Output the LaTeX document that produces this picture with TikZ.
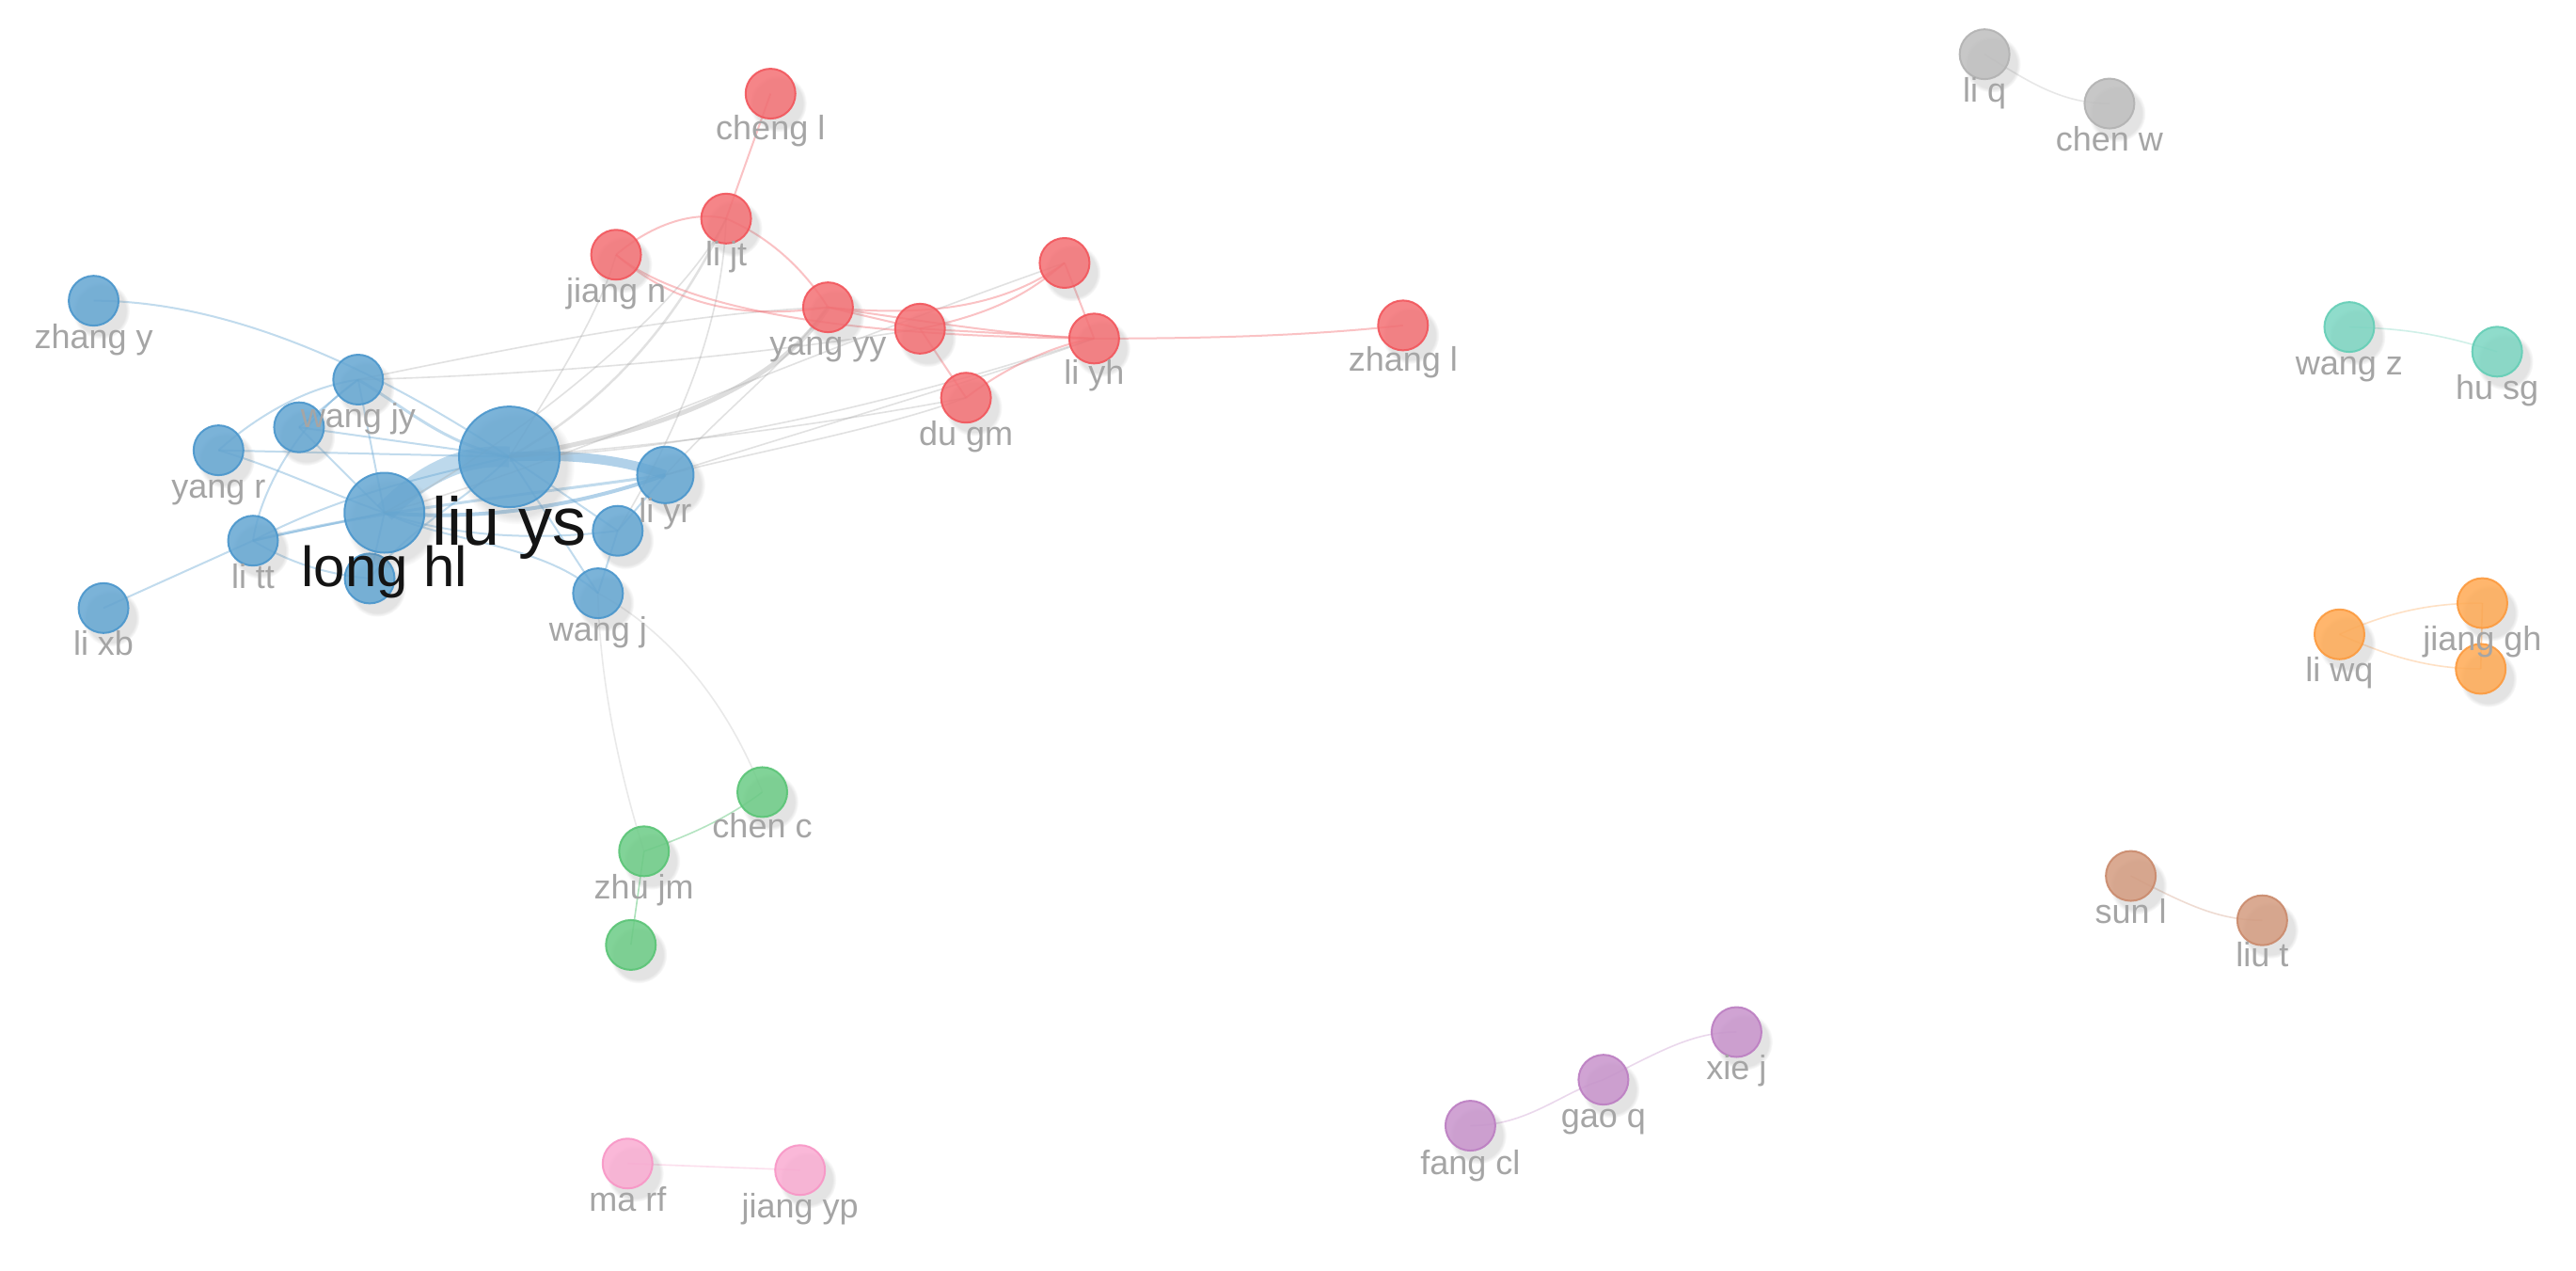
\documentclass[tikz,border=0pt]{standalone}
\usepackage{fontspec}
\setmainfont{Liberation Sans}
\usetikzlibrary{shadows,fadings}
\pgfdeclarelayer{bg}
\pgfdeclarelayer{edges}
\pgfsetlayers{bg,edges,main}

\definecolor{cblue}{RGB}{100,166,210}
\definecolor{cblueD}{RGB}{74,150,204}
\definecolor{cred}{RGB}{244,112,116}
\definecolor{credD}{RGB}{242,86,92}
\definecolor{cgreen}{RGB}{108,204,134}
\definecolor{cgreenD}{RGB}{90,196,118}
\definecolor{cpink}{RGB}{250,172,210}
\definecolor{cpinkD}{RGB}{248,150,198}
\definecolor{cpurple}{RGB}{200,148,204}
\definecolor{cpurpleD}{RGB}{188,126,194}
\definecolor{cgray}{RGB}{190,190,190}
\definecolor{cgrayD}{RGB}{178,178,178}
\definecolor{cteal}{RGB}{124,214,194}
\definecolor{ctealD}{RGB}{100,206,182}
\definecolor{corange}{RGB}{255,170,84}
\definecolor{corangeD}{RGB}{252,154,62}
\definecolor{cbrown}{RGB}{212,156,128}
\definecolor{cbrownD}{RGB}{202,138,108}
\definecolor{labgray}{RGB}{165,165,165}
\definecolor{eblue}{RGB}{100,165,212}
\definecolor{egray}{RGB}{170,170,170}
\definecolor{ered}{RGB}{244,120,126}

\tikzset{
  nd/.style={circle,inner sep=0pt,minimum size=53pt,line width=2pt,
    fill opacity=0.85,draw opacity=0.9,
    circular drop shadow={shadow xshift=7pt,shadow yshift=-9pt,opacity=0.22,shadow scale=1.15}},
  cb/.style={nd,fill=cblue,draw=cblueD},
  cr/.style={nd,fill=cred,draw=credD},
  cg/.style={nd,fill=cgreen,draw=cgreenD},
  cp/.style={nd,fill=cpink,draw=cpinkD},
  cu/.style={nd,fill=cpurple,draw=cpurpleD},
  cy/.style={nd,fill=cgray,draw=cgrayD},
  ct/.style={nd,fill=cteal,draw=ctealD},
  co/.style={nd,fill=corange,draw=corangeD},
  cw/.style={nd,fill=cbrown,draw=cbrownD},
  lbl/.style={font=\fontsize{36}{40}\selectfont,text=labgray,inner sep=0pt,anchor=base},
  big/.style={font=\fontsize{72}{80}\selectfont,text=black!92,inner sep=0pt,anchor=base},
  mid/.style={font=\fontsize{60}{66}\selectfont,text=black!92,inner sep=0pt,anchor=base},
  eb/.style={draw=eblue,line width=2pt,draw opacity=0.4},
  eg/.style={draw=egray,line width=1.6pt,draw opacity=0.35},
  er/.style={draw=ered,line width=2pt,draw opacity=0.45},
  ek/.style={line width=1.6pt,draw opacity=0.3},
}

\begin{document}
\begin{tikzpicture}[x=1.7468pt,y=-1.7468pt]
\begin{pgfonlayer}{bg}
\fill[white] (0,0) rectangle (1568,773);
\end{pgfonlayer}
\useasboundingbox (0,0) rectangle (1568,773);

% ---- blue cluster
\node[cb] (zhangy) at (57,183) {};
\node[cb] (wangjy) at (218,231) {};
\node[cb] (b1) at (182,260) {};
\node[cb] (yangr) at (133,274) {};
\node[cb] (litt) at (154,329) {};
\node[cb] (lixb) at (63,370) {};
\node[cb] (b2) at (225,352) {};
\node[cb] (wangj) at (364,361) {};
\node[cb] (b3) at (376,323) {};
\node[cb,minimum size=60pt] (liyr) at (405,289) {};
\node[cb,minimum size=85pt] (longhl) at (234,312) {};
\node[cb,minimum size=107pt] (liuys) at (310,278) {};

% ---- red cluster
\node[cr] (chengl) at (469,57) {};
\node[cr] (lijt) at (442,133) {};
\node[cr] (jiangn) at (375,155) {};
\node[cr] (r1) at (648,160) {};
\node[cr] (yangyy) at (504,187) {};
\node[cr] (r2) at (560,200) {};
\node[cr] (liyh) at (666,206) {};
\node[cr] (dugm) at (588,242) {};
\node[cr] (zhangl) at (854,198) {};

% ---- green
\node[cg] (chenc) at (464,482) {};
\node[cg] (zhujm) at (392,518) {};
\node[cg] (g1) at (384,575) {};
% ---- pink
\node[cp] (marf) at (382,708) {};
\node[cp] (jiangyp) at (487,712) {};
% ---- purple
\node[cu] (fangcl) at (895,685) {};
\node[cu] (gaoq) at (976,657) {};
\node[cu] (xiej) at (1057,628) {};
% ---- gray
\node[cy] (liq) at (1208,33) {};
\node[cy] (chenw) at (1284,63) {};
% ---- teal
\node[ct] (wangz) at (1430,199) {};
\node[ct] (husg) at (1520,214) {};
% ---- orange
\node[co] (liwq) at (1424,386) {};
\node[co] (jianggh) at (1511,367) {};
\node[co] (o1) at (1510,407) {};
% ---- brown
\node[cw] (sunl) at (1297,533) {};
\node[cw] (liut) at (1377,560) {};

% ---- labels
\node[lbl] (zhangy-t) at (57,212) {zhang y};
\node[lbl] (wangjy-t) at (218,260) {wang jy};
\node[lbl] (yangr-t) at (133,303) {yang r};
\node[lbl] (liyr-t) at (405,318) {li yr};
\node[lbl] (litt-t) at (154,358) {li tt};
\node[lbl] (lixb-t) at (63,399) {li xb};
\node[lbl] (wangj-t) at (364,390) {wang j};
\node[big] (liuys-t) at (310,332) {liu ys};
\node[mid] (longhl-t) at (234,357) {long hl};
\node[lbl] (chengl-t) at (469,85) {cheng l};
\node[lbl] (lijt-t) at (442,162) {li jt};
\node[lbl] (jiangn-t) at (375,184) {jiang n};
\node[lbl] (yangyy-t) at (504,216) {yang yy};
\node[lbl] (liyh-t) at (666,234) {li yh};
\node[lbl] (dugm-t) at (588,271) {du gm};
\node[lbl] (zhangl-t) at (854,226) {zhang l};
\node[lbl] (chenc-t) at (464,510) {chen c};
\node[lbl] (zhujm-t) at (392,547) {zhu jm};
\node[lbl] (marf-t) at (382,737) {ma rf};
\node[lbl] (jiangyp-t) at (487,741) {jiang yp};
\node[lbl] (fangcl-t) at (895,715) {fang cl};
\node[lbl] (gaoq-t) at (976,686) {gao q};
\node[lbl] (xiej-t) at (1057,657) {xie j};
\node[lbl] (liq-t) at (1208,62) {li q};
\node[lbl] (chenw-t) at (1284,92) {chen w};
\node[lbl] (wangz-t) at (1430,228) {wang z};
\node[lbl] (husg-t) at (1520,243) {hu sg};
\node[lbl] (liwq-t) at (1424,415) {li wq};
\node[lbl] (jianggh-t) at (1511,396) {jiang gh};
\node[lbl] (sunl-t) at (1297,562) {sun l};
\node[lbl] (liut-t) at (1377,588) {liu t};

\begin{pgfonlayer}{edges}
% blue edges
\draw[eb] (zhangy.center) .. controls (130,183) and (215,215) .. (liuys.center);
\draw[eb,line width=22pt,draw opacity=0.42] (longhl.center) .. controls (255,290) and (280,276) .. (liuys.center);
\draw[eb,line width=10pt,draw opacity=0.5] (liuys.center) .. controls (350,276) and (380,280) .. (liyr.center);
\draw[eb,line width=4pt,draw opacity=0.5] (longhl.center) .. controls (300,318) and (360,305) .. (liyr.center);
\draw[eb] (yangr.center) -- (liuys.center);
\draw[eb] (yangr.center) .. controls (170,285) and (200,300) .. (longhl.center);
\draw[eb] (yangr.center) .. controls (160,250) and (190,235) .. (wangjy.center);
\draw[eb] (b1.center) -- (liuys.center);
\draw[eb] (b1.center) -- (longhl.center);
\draw[eb] (b1.center) -- (wangjy.center);
\draw[eb,line width=3pt] (wangjy.center) .. controls (250,250) and (270,270) .. (liuys.center);
\draw[eb] (wangjy.center) -- (longhl.center);
\draw[eb] (litt.center) -- (longhl.center);
\draw[eb] (litt.center) .. controls (210,300) and (260,290) .. (liuys.center);
\draw[eb,line width=3pt] (litt.center) .. controls (230,310) and (330,300) .. (liyr.center);
\draw[eb] (litt.center) .. controls (160,290) and (190,250) .. (wangjy.center);
\draw[eb] (lixb.center) -- (litt.center);
\draw[eb] (b2.center) -- (longhl.center);
\draw[eb] (b2.center) .. controls (250,320) and (290,300) .. (liuys.center);
\draw[eb] (litt.center) .. controls (180,345) and (205,350) .. (b2.center);
\draw[eb] (wangj.center) -- (liuys.center);
\draw[eb] (wangj.center) -- (b3.center);
\draw[eb] (wangj.center) .. controls (330,330) and (270,330) .. (longhl.center);
\draw[eb] (b3.center) -- (liuys.center);
\draw[eb] (b3.center) -- (liyr.center);
\draw[eb] (b3.center) .. controls (320,330) and (270,325) .. (longhl.center);
% cross-cluster gray edges
\draw[eg,line width=5pt,draw opacity=0.4] (liuys.center) .. controls (390,265) and (470,240) .. (yangyy.center);
\draw[eg,line width=2.5pt] (liuys.center) .. controls (380,240) and (420,180) .. (lijt.center);
\draw[eg] (liuys.center) .. controls (340,230) and (365,190) .. (jiangn.center);
\draw[eg] (longhl.center) .. controls (330,260) and (420,180) .. (lijt.center);
\draw[eg] (b3.center) .. controls (420,250) and (440,190) .. (lijt.center);
\draw[eg] (wangjy.center) .. controls (320,210) and (420,190) .. (yangyy.center);
\draw[eg] (wangjy.center) .. controls (340,228) and (470,215) .. (r2.center);
\draw[eg] (liuys.center) .. controls (420,270) and (520,255) .. (dugm.center);
\draw[eg] (liuys.center) .. controls (430,275) and (560,240) .. (liyh.center);
\draw[eg] (liyr.center) .. controls (460,275) and (540,260) .. (dugm.center);
\draw[eg] (liyr.center) .. controls (480,265) and (600,230) .. (liyh.center);
\draw[eg] (liyr.center) .. controls (440,250) and (480,220) .. (yangyy.center);
\draw[eg] (longhl.center) .. controls (350,280) and (450,230) .. (r1.center);
\draw[eg,draw opacity=0.25] (wangj.center) .. controls (400,380) and (440,420) .. (chenc.center);
\draw[eg,draw opacity=0.25] (wangj.center) .. controls (365,420) and (380,480) .. (zhujm.center);
% red edges
\draw[er] (chengl.center) -- (lijt.center);
\draw[er] (jiangn.center) .. controls (395,138) and (420,128) .. (lijt.center);
\draw[er] (lijt.center) .. controls (470,145) and (490,165) .. (yangyy.center);
\draw[er] (jiangn.center) .. controls (410,185) and (450,195) .. (yangyy.center);
\draw[er] (jiangn.center) .. controls (430,200) and (580,205) .. (liyh.center);
\draw[er] (yangyy.center) .. controls (580,195) and (620,180) .. (r1.center);
\draw[er] (yangyy.center) -- (r2.center);
\draw[er] (yangyy.center) .. controls (560,195) and (620,205) .. (liyh.center);
\draw[er] (r2.center) .. controls (610,190) and (630,175) .. (r1.center);
\draw[er] (r2.center) -- (liyh.center);
\draw[er] (r2.center) -- (dugm.center);
\draw[er] (r1.center) -- (liyh.center);
\draw[er] (liyh.center) .. controls (740,206) and (800,204) .. (zhangl.center);
\draw[er] (dugm.center) .. controls (610,225) and (640,210) .. (liyh.center);
% other clusters
\draw[ek,draw=cgreenD,draw opacity=0.45] (zhujm.center) .. controls (415,510) and (440,500) .. (chenc.center);
\draw[ek,draw=cgreenD,draw opacity=0.5] (zhujm.center) -- (g1.center);
\draw[ek,draw=cpinkD] (marf.center) -- (jiangyp.center);
\draw[ek,draw=cpurpleD] (fangcl.center) .. controls (930,685) and (950,665) .. (gaoq.center);
\draw[ek,draw=cpurpleD] (gaoq.center) .. controls (1010,640) and (1030,628) .. (xiej.center);
\draw[ek,draw=cgrayD] (liq.center) .. controls (1235,50) and (1255,63) .. (chenw.center);
\draw[ek,draw=ctealD] (wangz.center) .. controls (1470,200) and (1490,205) .. (husg.center);
\draw[ek,draw=corangeD] (liwq.center) .. controls (1455,372) and (1480,367) .. (jianggh.center);
\draw[ek,draw=corangeD] (liwq.center) .. controls (1455,400) and (1480,407) .. (o1.center);
\draw[ek,draw=corangeD,draw opacity=0.5] (jianggh.center) -- (o1.center);
\draw[ek,draw=cbrownD] (sunl.center) .. controls (1330,550) and (1350,560) .. (liut.center);
\end{pgfonlayer}
\end{tikzpicture}
\end{document}
